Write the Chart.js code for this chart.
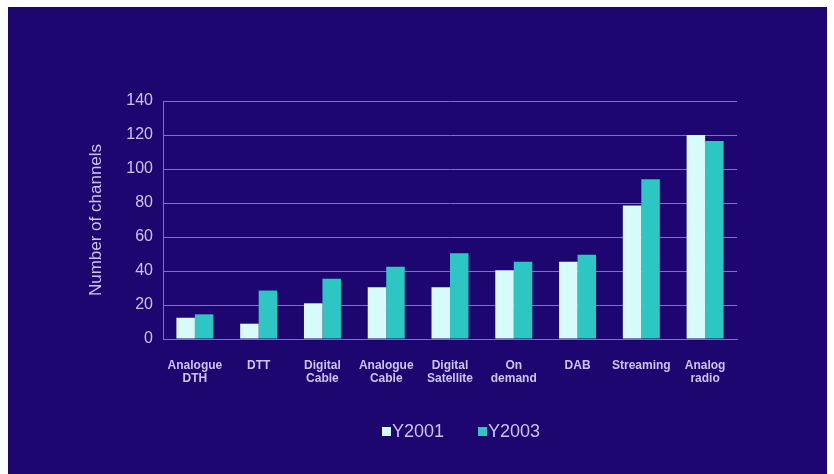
<!DOCTYPE html>
<html>
<head>
<meta charset="utf-8">
<script src="https://cdn.jsdelivr.net/npm/chart.js@4/dist/chart.umd.min.js"></script>
<style>
  body { margin: 0; background: #fff; font-family: "Liberation Sans", Arial, sans-serif; }
  #panel { position: absolute; left: 8px; top: 7px; width: 819px; height: 467px; background: #1d0670; }
  #wrap { position: absolute; left: 0; top: 0; width: 834px; height: 474px; }
  #legend { position: absolute; left: 382px; top: 422px; display: flex; gap: 34px; color: #cdc5f0; font-size: 18px; line-height: 18px; }
  #legend .item { display: flex; align-items: center; }
  #legend .box { width: 9px; height: 9px; margin-right: 1px; }
</style>
</head>
<body>
<div id="panel"></div>
<div id="wrap"><canvas id="chart" width="834" height="474"></canvas></div>
<div id="legend"></div>
<script>
// Channel counts per platform
const categories = [
  ["Analogue", "DTH"], "DTT", ["Digital", "Cable"], ["Analogue", "Cable"],
  ["Digital", "Satellite"], ["On", "demand"], "DAB", "Streaming", ["Analog", "radio"]
];
const y2001 = [12.5, 9, 21, 30.5, 30.5, 40.5, 45.5, 78.5, 120];
const y2003 = [14.5, 28.5, 35.5, 42.5, 50.5, 45.5, 49.5, 94, 116.5];
const yTicks = [0, 20, 40, 60, 80, 100, 120, 140];

const colors = { y2001: "#d6fbf8", y2003: "#2ec6c2" };
const textColor = "#cdc5f0";
const gridColor = "#7d6cd6";

const seriesList = [
  { label: "Y2001", data: y2001, color: colors.y2001 },
  { label: "Y2003", data: y2003, color: colors.y2003 }
];

new Chart(document.getElementById("chart"), {
  type: "bar",
  data: {
    labels: categories,
    datasets: seriesList.map(s => ({
      label: s.label,
      data: s.data,
      backgroundColor: s.color,
      borderWidth: 0,
      categoryPercentage: 0.58,
      barPercentage: 1.0
    }))
  },
  options: {
    responsive: false,
    animation: false,
    layout: { padding: { left: 76, top: 101, right: 97, bottom: 0 } },
    plugins: { legend: { display: false }, tooltip: { enabled: false } },
    scales: {
      x: {
        grid: { display: false },
        border: { display: true, color: gridColor, width: 1 },
        ticks: {
          color: textColor,
          font: { family: "Liberation Sans", size: 12, weight: "bold", lineHeight: 1.1 },
          padding: 12,
          maxRotation: 0,
          autoSkip: false
        },
        afterFit: scale => { scale.height = 135; }
      },
      y: {
        min: 0,
        max: 140,
        afterBuildTicks: scale => { scale.ticks = yTicks.map(v => ({ value: v })); },
        grid: { color: gridColor, lineWidth: 1, drawTicks: false },
        border: { display: true, color: gridColor, width: 1 },
        ticks: {
          color: textColor,
          font: { family: "Liberation Sans", size: 16 },
          padding: 10
        },
        title: {
          display: true,
          text: "Number of channels",
          color: textColor,
          font: { family: "Liberation Sans", size: 17 },
          padding: { top: 10, bottom: 0 }
        },
        afterFit: scale => { scale.width = 87; }
      }
    }
  }
});

// Legend below the plot
const legend = document.getElementById("legend");
seriesList.forEach(s => {
  const item = document.createElement("div");
  item.className = "item";
  item.innerHTML = `<span class="box" style="background:${s.color}"></span><span>${s.label}</span>`;
  legend.appendChild(item);
});
</script>
</body>
</html>
